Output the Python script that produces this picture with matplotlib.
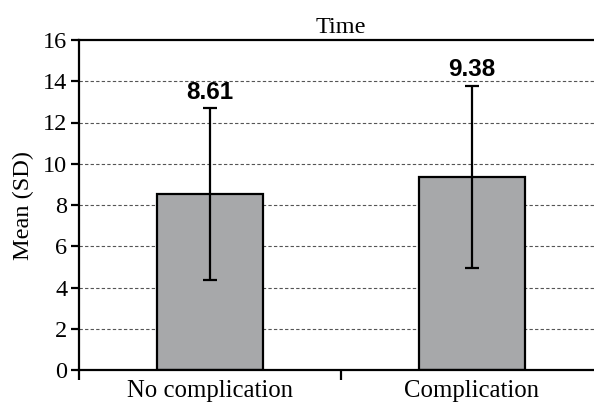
import matplotlib
matplotlib.use("Agg")
import matplotlib.pyplot as plt
import numpy as np

categories = ["No complication", "Complication"]
means = [8.52, 9.36]
sds = [4.18, 4.43]
value_labels = ["8.61", "9.38"]
yticks = [0, 2, 4, 6, 8, 10, 12, 14, 16]

fig = plt.figure(figsize=(5.94, 4.03), dpi=100)
ax = fig.add_axes([79/594, 1 - 370/403, (602.4-79)/594, (370-40)/403])

x = np.arange(len(categories))
ax.set_axisbelow(True)
for yv in yticks[1:-1]:
    ax.axhline(yv, color="#555555", lw=0.8, ls=(0, (3, 2)), zorder=0)

ax.bar(x, means, width=0.405, color="#a7a8aa", edgecolor="black", lw=1.6, zorder=2)
ax.errorbar(x, means, yerr=sds, fmt="none", ecolor="black", elinewidth=1.6,
            capsize=5, capthick=1.6, zorder=3)
for xi, m, s, lab in zip(x, means, sds, value_labels):
    ax.annotate(lab, (xi, m + s), xytext=(0, 3), textcoords="offset points",
                ha="center", va="bottom", fontsize=17.5, fontweight="bold",
                family="Liberation Sans")

ax.set_xlim(-0.5, 1.5)
ax.set_ylim(0, 16)
ax.set_yticks(yticks)
ax.set_yticklabels([str(v) for v in yticks], family="Liberation Serif", fontsize=17.5)
ax.set_xticks([-0.5, 0.5, 1.5])
ax.set_xticklabels([])
ax.set_xticks(x, minor=True)
ax.set_xticklabels(categories, minor=True, family="Liberation Serif", fontsize=17.8)
ax.tick_params(axis="x", which="major", length=7.5, width=1.6, direction="out")
ax.tick_params(axis="x", which="minor", length=0, pad=7.5)
ax.tick_params(axis="y", length=6, width=1.6, direction="out", pad=2.5)
for sp in ["left", "bottom", "top"]:
    ax.spines[sp].set_linewidth(1.6)
ax.spines["right"].set_visible(False)

ax.set_ylabel("Mean (SD)", family="Liberation Serif", fontsize=17.5, labelpad=6)
ax.set_title("Time", family="Liberation Serif", fontsize=17.5, pad=5)

fig.savefig("out.png", dpi=100)
